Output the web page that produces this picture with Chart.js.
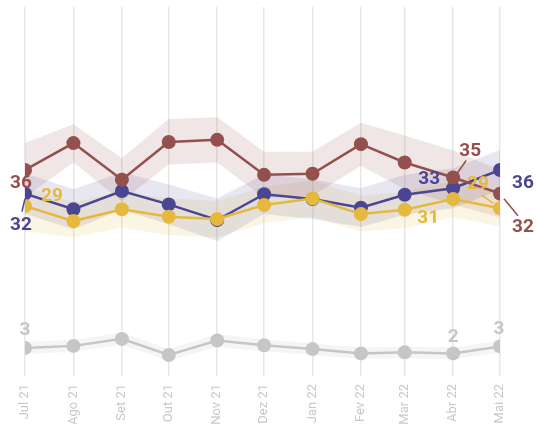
<!DOCTYPE html>
<html>
<head>
<meta charset="utf-8">
<script src="https://cdn.jsdelivr.net/npm/chart.js@4"></script>
<style>
  body { margin: 0; background: #fff; }
  #wrap { width: 536px; height: 424px; }
</style>
</head>
<body>
<div id="wrap"><canvas id="myChart"></canvas></div>
<script>
  const months = ['Jul 21', 'Ago 21', 'Set 21', 'Out 21', 'Nov 21', 'Dez 21', 'Jan 22', 'Fev 22', 'Mar 22', 'Abr 22', 'Mai 22'];
  const dates = ['2021-07-01', '2021-08-01', '2021-09-01', '2021-10-01', '2021-11-01', '2021-12-01',
                 '2022-01-01', '2022-02-01', '2022-03-01', '2022-04-01', '2022-05-01'];

  const redVals = [36.0, 41.0, 34.2, 41.2, 41.6, 35.1, 35.3, 40.8, 37.4, 34.6, 31.6];
  const redHi = [41.0, 44.5, 38.2, 45.5, 45.8, 39.4, 39.4, 44.8, 42.4, 39.6, 36.0];
  const redLo = [31.0, 37.4, 30.2, 37.0, 37.4, 30.8, 31.2, 36.8, 32.4, 29.6, 27.2];

  const blueVals = [31.6, 28.7, 32.1, 29.6, 26.7, 31.5, 30.6, 29.0, 31.4, 32.6, 36.0];
  const blueHi = [35.4, 32.4, 35.6, 33.3, 30.7, 35.2, 34.3, 32.6, 35.1, 36.3, 39.7];
  const blueLo = [27.8, 25.0, 28.6, 25.9, 22.8, 27.8, 26.9, 25.4, 27.7, 28.9, 32.3];

  const yellowVals = [29.3, 26.5, 28.7, 27.3, 26.9, 29.5, 30.7, 27.8, 28.6, 30.6, 28.9];
  const yellowHi = [32.8, 30.0, 32.1, 30.7, 30.3, 32.9, 34.1, 31.2, 32.0, 34.0, 32.3];
  const yellowLo = [24.6, 23.5, 25.3, 23.9, 23.5, 26.1, 27.3, 24.5, 25.2, 27.2, 25.5];

  const grayVals = [2.9, 3.3, 4.6, 1.6, 4.3, 3.4, 2.7, 1.9, 2.1, 1.9, 3.2];
  const grayHi = [4.0, 4.4, 5.8, 2.7, 5.5, 4.5, 3.8, 3.0, 3.2, 3.0, 4.3];
  const grayLo = [1.8, 2.2, 3.4, 0.6, 3.1, 2.3, 1.6, 0.9, 1.0, 0.8, 2.1];

  // day offsets from the first month, so spacing follows the calendar
  const t0 = Date.parse(dates[0]);
  const days = dates.map(d => Math.round((Date.parse(d) - t0) / 86400000));
  const pts = arr => arr.map((v, i) => ({ x: days[i], y: v }));

  const RED = '#93504d', BLUE = '#4b4691', YELLOW = '#e5b93d', GRAY = '#c6c6c6';

  function band(hi, lo, color) {
    return [
      { data: pts(hi), borderWidth: 0, pointRadius: 0, fill: false, order: 10, backgroundColor: color },
      { data: pts(lo), borderWidth: 0, pointRadius: 0, fill: '-1', order: 10, backgroundColor: color }
    ];
  }
  function line(vals, color, order) {
    return { data: pts(vals), borderColor: color, backgroundColor: color, borderWidth: 2.5,
             pointRadius: 7, pointBorderWidth: 0, pointHoverRadius: 7, fill: false, order: order };
  }

  const datasets = [
    ...band(redHi, redLo, 'rgba(147,80,77,0.14)'),      // 0,1
    ...band(blueHi, blueLo, 'rgba(75,70,145,0.13)'),    // 2,3
    ...band(yellowHi, yellowLo, 'rgba(229,185,61,0.14)'), // 4,5
    ...band(grayHi, grayLo, 'rgba(190,190,190,0.16)'),  // 6,7
    line(blueVals, BLUE, 4),    // 8
    line(yellowVals, YELLOW, 3), // 9
    line(redVals, RED, 2),      // 10
    line(grayVals, GRAY, 5)     // 11
  ];

  // label placement: dataset, point index, text offset, optional leader line (relative to point)
  const valueLabels = [
    { ds: 10, i: 0, dx: -4, dy: 12, color: RED },
    { ds: 8, i: 0, dx: -4, dy: 31, color: BLUE, leader: [-3, 18, 0, 5] },
    { ds: 9, i: 0, dx: 27, dy: -11, color: YELLOW },
    { ds: 11, i: 0, dx: 0, dy: -19, color: GRAY },
    { ds: 11, i: 9, dx: 0, dy: -17, color: GRAY },
    { ds: 11, i: 10, dx: -1, dy: -18, color: GRAY },
    { ds: 8, i: 9, dx: -24, dy: -10, color: BLUE },
    { ds: 10, i: 9, dx: 17, dy: -27, color: RED, leader: [13, -17, 4, -4] },
    { ds: 9, i: 9, dx: -25, dy: 18, color: YELLOW },
    { ds: 9, i: 10, dx: -22, dy: -25, color: YELLOW, leader: [-18, -13, -7, -5] },
    { ds: 8, i: 10, dx: 23, dy: 12, color: BLUE },
    { ds: 10, i: 10, dx: 23, dy: 33, color: RED, leader: [4, 5, 18, 22] }
  ];

  const labelPlugin = {
    id: 'valueLabels',
    afterDatasetsDraw(chart) {
      const c = chart.ctx;
      c.save();
      c.font = 'bold 19px Roboto';
      c.textAlign = 'center';
      c.textBaseline = 'middle';
      valueLabels.forEach(l => {
        const el = chart.getDatasetMeta(l.ds).data[l.i];
        const v = chart.data.datasets[l.ds].data[l.i].y;
        if (l.leader) {
          c.strokeStyle = l.color;
          c.lineWidth = 1.5;
          c.beginPath();
          c.moveTo(el.x + l.leader[0], el.y + l.leader[1]);
          c.lineTo(el.x + l.leader[2], el.y + l.leader[3]);
          c.stroke();
        }
        c.fillStyle = l.color;
        c.fillText(String(Math.round(v)), el.x + l.dx, el.y + l.dy + 1);
      });
      c.restore();
    }
  };

  const ctx = document.getElementById('myChart');

  new Chart(ctx, {
    type: 'line',
    data: { datasets: datasets },
    plugins: [labelPlugin],
    options: {
      responsive: true,
      maintainAspectRatio: false,
      animation: false,
      layout: { padding: { top: 7, left: 25, right: 36, bottom: 0 } },
      elements: { line: { tension: 0 } },
      plugins: { legend: { display: false }, tooltip: { enabled: false } },
      scales: {
        x: {
          type: 'linear',
          min: 0,
          max: days[days.length - 1],
          afterBuildTicks: scale => { scale.ticks = days.map(d => ({ value: d })); },
          afterFit: scale => { scale.height = 48; },
          border: { display: false },
          grid: { color: '#e8e8e8', lineWidth: 1.5, drawTicks: false },
          ticks: {
            autoSkip: false,
            maxRotation: 90,
            minRotation: 90,
            padding: 8,
            color: '#c8c8c8',
            font: { family: 'Roboto', size: 13 },
            callback: (v, i) => months[i]
          }
        },
        y: {
          display: false,
          min: -2.3,
          max: 66.3
        }
      }
    }
  });
</script>
</body>
</html>
